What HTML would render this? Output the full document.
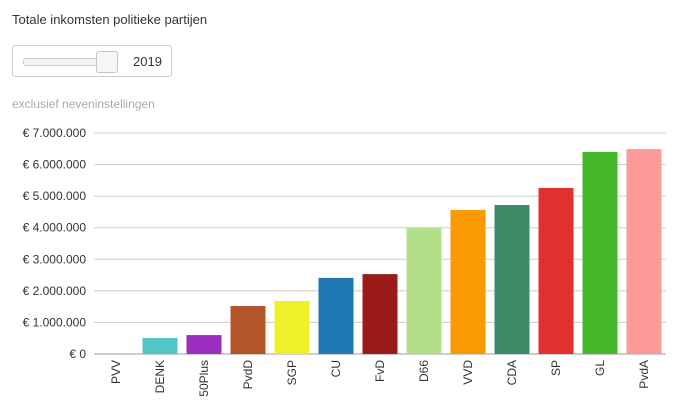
<!DOCTYPE html>
<html><head><meta charset="utf-8"><style>
body{margin:0;background:#fff;font-family:"Liberation Sans",sans-serif;}
#wrap{position:relative;width:674px;height:400px;overflow:hidden;}
</style></head><body>
<div id="wrap">
<div style="position:absolute;left:12px;top:12px;font-size:13px;color:#333;">Totale inkomsten politieke partijen</div>
<div style="position:absolute;left:12px;top:45px;width:160px;height:32px;border:1px solid #ccc;border-radius:3px;box-sizing:border-box;">
  <div style="position:absolute;left:10px;top:12px;width:90px;height:6px;border:1px solid #ccc;border-radius:3px;background:#f4f4f4;"></div>
  <div style="position:absolute;left:83px;top:5px;width:20px;height:20px;border:1px solid #c5c5c5;border-radius:3px;background:#f6f6f6;"></div>
  <div style="position:absolute;left:120px;top:8px;font-size:13px;color:#333;">2019</div>
</div>
<div style="position:absolute;left:12px;top:97px;font-size:12px;color:#aaa;">exclusief neveninstellingen</div>
<svg id="chart" width="674" height="400" style="position:absolute;left:0;top:0"></svg>
</div>
<script>
const categories=["PVV","DENK","50Plus","PvdD","SGP","CU","FvD","D66","VVD","CDA","SP","GL","PvdA"];
const values=[0,510000,600000,1520000,1680000,2410000,2530000,4000000,4560000,4720000,5260000,6400000,6490000];
const colors=["#999","#56c5c8","#9b30c0","#b5562a","#eef02a","#1f77b4","#9b1a1a","#b3df8a","#fb9a00","#408a68","#e0302f","#45b82a","#fb9a99"];
const ticks=[0,1000000,2000000,3000000,4000000,5000000,6000000,7000000];
const tickLabels=["€ 0","€ 1.000.000","€ 2.000.000","€ 3.000.000","€ 4.000.000","€ 5.000.000","€ 6.000.000","€ 7.000.000"];
const svg=document.getElementById('chart');const NS="http://www.w3.org/2000/svg";
const y0=354,y1=133,max=7000000,x0=94,step=44,bw=35;
const y=v=>y0-(v/max)*(y0-y1);
const x=i=>x0+i*step+(step-bw)/2;
function mk(t,a){const e=document.createElementNS(NS,t);for(const k in a)e.setAttribute(k,a[k]);svg.appendChild(e);return e;}
ticks.forEach((t,i)=>{
 const g=mk('line',{x1:94,x2:666,y1:y(t),y2:y(t),stroke:i==0?'#999':'#ccc','stroke-width':1});
 
 
 const l=mk('text',{x:86,y:y(t)+4,'text-anchor':'end','font-size':12,fill:'#333','font-family':'Liberation Sans, sans-serif'});
 l.textContent=tickLabels[i];
 
 
});
categories.forEach((c,i)=>{
 const r=mk('rect',{x:x(i),y:y(values[i]),width:bw,height:y0-y(values[i]),fill:colors[i]});
 
 
 const cx=x(i)+bw/2+4;
 const t=mk('text',{x:cx,y:360,'text-anchor':'end','font-size':12,fill:'#333','font-family':'Liberation Sans, sans-serif',transform:`rotate(-90 ${cx} 360)`});
 t.textContent=c;
 
 
});
</script>
</body></html>
